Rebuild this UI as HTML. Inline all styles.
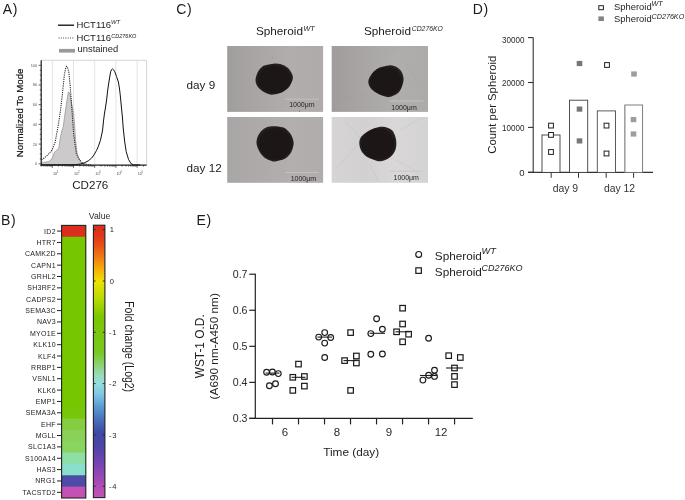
<!DOCTYPE html><html><head><meta charset="utf-8"><style>html,body{margin:0;padding:0;background:#fff;}svg{display:block;filter:blur(0.3px);}text{font-family:"Liberation Sans", sans-serif;}</style></head><body>
<svg width="685" height="500" viewBox="0 0 685 500">
<rect width="685" height="500" fill="#fff"/>
<text x="2.8" y="13.6" font-size="14.0" text-anchor="start" fill="#1a1a1a" letter-spacing="0.6">A)</text>
<text x="1.0" y="224.8" font-size="14.0" text-anchor="start" fill="#1a1a1a" letter-spacing="0.6">B)</text>
<text x="176.2" y="13.7" font-size="14.0" text-anchor="start" fill="#1a1a1a" letter-spacing="0.6">C)</text>
<text x="472.8" y="13.7" font-size="14.0" text-anchor="start" fill="#1a1a1a" letter-spacing="0.6">D)</text>
<text x="196.6" y="224.9" font-size="14.0" text-anchor="start" fill="#1a1a1a" letter-spacing="0.6">E)</text>
<line x1="58" y1="25.2" x2="74" y2="25.2" stroke="#0a0a0a" stroke-width="1.3"/>
<line x1="58.5" y1="38" x2="74" y2="38" stroke="#333" stroke-width="0.9" stroke-dasharray="1,1.3"/>
<rect x="59" y="48.9" width="16" height="3.7" fill="#9a9a9a"/>
<text x="76.4" y="27.75" font-size="9.5" text-anchor="start" fill="#222" >HCT116</text>
<text x="111.0" y="24.4" font-size="5.8" text-anchor="start" fill="#222" font-style="italic">WT</text>
<text x="76.4" y="41.0" font-size="9.5" text-anchor="start" fill="#222" >HCT116</text>
<text x="111.3" y="37.7" font-size="5.5" text-anchor="start" fill="#222" font-style="italic">CD276KO</text>
<text x="77.6" y="52.0" font-size="9.4" text-anchor="start" fill="#222" >unstained</text>
<line x1="52.30" y1="60.3" x2="52.30" y2="165.2" stroke="#dcdcdc" stroke-width="0.8"/>
<line x1="73.50" y1="60.3" x2="73.50" y2="165.2" stroke="#dcdcdc" stroke-width="0.8"/>
<line x1="94.70" y1="60.3" x2="94.70" y2="165.2" stroke="#dcdcdc" stroke-width="0.8"/>
<line x1="115.90" y1="60.3" x2="115.90" y2="165.2" stroke="#dcdcdc" stroke-width="0.8"/>
<line x1="137.10" y1="60.3" x2="137.10" y2="165.2" stroke="#dcdcdc" stroke-width="0.8"/>
<line x1="41.2" y1="60.3" x2="146.6" y2="60.3" stroke="#d0d0d0" stroke-width="0.9"/>
<line x1="146.6" y1="60.3" x2="146.6" y2="165.2" stroke="#d0d0d0" stroke-width="0.9"/>
<path d="M41.5,165.2 L41.5,162.5 L43.2,162.4 L48.8,161.6 L52.0,158.8 L54.4,152.4 L56.4,150.4 L58.8,148.4 L60.0,139.6 L61.8,131.0 L63.2,127.0 L64.8,115.0 L66.4,104.0 L67.6,96.6 L68.3,92.0 L69.2,92.5 L70.4,96.0 L71.6,104.0 L73.6,113.4 L74.6,125.0 L75.2,135.0 L75.8,142.0 L77.2,154.0 L80.4,162.0 L84.0,164.6 L86.0,165.2 Z" fill="#cccaca" stroke="#8f8f8f" stroke-width="0.7"/>
<path d="M41.5,160.0 L43.2,158.8 L48.0,154.8 L52.0,150.0 L55.2,142.0 L56.6,134.2 L57.4,130.0 L58.4,124.6 L60.4,111.0 L62.2,96.0 L63.2,86.4 L64.4,74.4 L65.6,68.5 L66.6,66.4 L67.6,67.5 L68.8,72.0 L70.0,84.0 L71.0,97.0 L72.0,111.0 L72.8,122.2 L73.6,133.4 L74.8,143.0 L76.4,154.0 L78.8,158.8 L82.0,162.4 L84.0,163.6 L88.0,164.6 L92.0,165.0" fill="none" stroke="#2a2222" stroke-width="1.05" stroke-dasharray="1.2,1.0"/>
<path d="M41.5,164.8 L60.0,164.8 L76.0,164.7 L80.4,164.0 L84.4,162.8 L88.4,160.8 L91.5,158.2 L94.0,154.8 L96.5,150.5 L98.2,146.8 L100.4,140.4 L101.8,134.0 L102.6,130.0 L103.5,121.0 L104.4,114.0 L105.4,108.0 L106.6,100.0 L107.6,91.0 L108.6,84.0 L109.4,79.0 L110.6,71.8 L111.6,69.6 L112.4,68.8 L113.6,69.8 L114.8,71.8 L116.6,76.6 L118.4,82.0 L119.4,88.0 L120.2,94.6 L121.4,107.0 L122.4,117.0 L123.2,128.0 L124.6,141.0 L126.2,151.6 L128.6,159.6 L131.0,163.6 L133.4,164.8 L140.0,165.0" fill="none" stroke="#111" stroke-width="1.0"/>
<line x1="41.2" y1="60.3" x2="41.2" y2="165.79999999999998" stroke="#1a1a1a" stroke-width="1.2"/>
<line x1="40.6" y1="165.2" x2="146.6" y2="165.2" stroke="#1a1a1a" stroke-width="1.2"/>
<line x1="38.60" y1="163.80" x2="41.2" y2="163.80" stroke="#222" stroke-width="0.7"/>
<text x="37.2" y="165.20000000000002" font-size="3.9" text-anchor="end" fill="#555" >0</text>
<line x1="39.80" y1="158.88" x2="41.2" y2="158.88" stroke="#222" stroke-width="0.7"/>
<line x1="39.80" y1="153.95" x2="41.2" y2="153.95" stroke="#222" stroke-width="0.7"/>
<line x1="39.80" y1="149.03" x2="41.2" y2="149.03" stroke="#222" stroke-width="0.7"/>
<line x1="38.60" y1="144.10" x2="41.2" y2="144.10" stroke="#222" stroke-width="0.7"/>
<text x="37.2" y="145.50000000000003" font-size="3.9" text-anchor="end" fill="#555" >20</text>
<line x1="39.80" y1="139.18" x2="41.2" y2="139.18" stroke="#222" stroke-width="0.7"/>
<line x1="39.80" y1="134.25" x2="41.2" y2="134.25" stroke="#222" stroke-width="0.7"/>
<line x1="39.80" y1="129.33" x2="41.2" y2="129.33" stroke="#222" stroke-width="0.7"/>
<line x1="38.60" y1="124.40" x2="41.2" y2="124.40" stroke="#222" stroke-width="0.7"/>
<text x="37.2" y="125.80000000000001" font-size="3.9" text-anchor="end" fill="#555" >40</text>
<line x1="39.80" y1="119.48" x2="41.2" y2="119.48" stroke="#222" stroke-width="0.7"/>
<line x1="39.80" y1="114.55" x2="41.2" y2="114.55" stroke="#222" stroke-width="0.7"/>
<line x1="39.80" y1="109.62" x2="41.2" y2="109.62" stroke="#222" stroke-width="0.7"/>
<line x1="38.60" y1="104.70" x2="41.2" y2="104.70" stroke="#222" stroke-width="0.7"/>
<text x="37.2" y="106.10000000000001" font-size="3.9" text-anchor="end" fill="#555" >60</text>
<line x1="39.80" y1="99.78" x2="41.2" y2="99.78" stroke="#222" stroke-width="0.7"/>
<line x1="39.80" y1="94.85" x2="41.2" y2="94.85" stroke="#222" stroke-width="0.7"/>
<line x1="39.80" y1="89.92" x2="41.2" y2="89.92" stroke="#222" stroke-width="0.7"/>
<line x1="38.60" y1="85.00" x2="41.2" y2="85.00" stroke="#222" stroke-width="0.7"/>
<text x="37.2" y="86.4" font-size="3.9" text-anchor="end" fill="#555" >80</text>
<line x1="39.80" y1="80.08" x2="41.2" y2="80.08" stroke="#222" stroke-width="0.7"/>
<line x1="39.80" y1="75.15" x2="41.2" y2="75.15" stroke="#222" stroke-width="0.7"/>
<line x1="39.80" y1="70.23" x2="41.2" y2="70.23" stroke="#222" stroke-width="0.7"/>
<line x1="38.60" y1="65.30" x2="41.2" y2="65.30" stroke="#222" stroke-width="0.7"/>
<text x="37.2" y="66.7" font-size="3.9" text-anchor="end" fill="#555" >100</text>
<line x1="41.21" y1="165.2" x2="41.21" y2="166.60" stroke="#222" stroke-width="0.7"/>
<line x1="43.86" y1="165.2" x2="43.86" y2="166.60" stroke="#222" stroke-width="0.7"/>
<line x1="45.92" y1="165.2" x2="45.92" y2="166.60" stroke="#222" stroke-width="0.7"/>
<line x1="47.60" y1="165.2" x2="47.60" y2="166.60" stroke="#222" stroke-width="0.7"/>
<line x1="49.02" y1="165.2" x2="49.02" y2="166.60" stroke="#222" stroke-width="0.7"/>
<line x1="50.25" y1="165.2" x2="50.25" y2="166.60" stroke="#222" stroke-width="0.7"/>
<line x1="51.33" y1="165.2" x2="51.33" y2="166.60" stroke="#222" stroke-width="0.7"/>
<line x1="52.30" y1="165.2" x2="52.30" y2="167.80" stroke="#222" stroke-width="0.7"/>
<line x1="58.68" y1="165.2" x2="58.68" y2="166.60" stroke="#222" stroke-width="0.7"/>
<line x1="62.41" y1="165.2" x2="62.41" y2="166.60" stroke="#222" stroke-width="0.7"/>
<line x1="65.06" y1="165.2" x2="65.06" y2="166.60" stroke="#222" stroke-width="0.7"/>
<line x1="67.12" y1="165.2" x2="67.12" y2="166.60" stroke="#222" stroke-width="0.7"/>
<line x1="68.80" y1="165.2" x2="68.80" y2="166.60" stroke="#222" stroke-width="0.7"/>
<line x1="70.22" y1="165.2" x2="70.22" y2="166.60" stroke="#222" stroke-width="0.7"/>
<line x1="71.45" y1="165.2" x2="71.45" y2="166.60" stroke="#222" stroke-width="0.7"/>
<line x1="72.53" y1="165.2" x2="72.53" y2="166.60" stroke="#222" stroke-width="0.7"/>
<line x1="73.50" y1="165.2" x2="73.50" y2="167.80" stroke="#222" stroke-width="0.7"/>
<line x1="79.88" y1="165.2" x2="79.88" y2="166.60" stroke="#222" stroke-width="0.7"/>
<line x1="83.61" y1="165.2" x2="83.61" y2="166.60" stroke="#222" stroke-width="0.7"/>
<line x1="86.26" y1="165.2" x2="86.26" y2="166.60" stroke="#222" stroke-width="0.7"/>
<line x1="88.32" y1="165.2" x2="88.32" y2="166.60" stroke="#222" stroke-width="0.7"/>
<line x1="90.00" y1="165.2" x2="90.00" y2="166.60" stroke="#222" stroke-width="0.7"/>
<line x1="91.42" y1="165.2" x2="91.42" y2="166.60" stroke="#222" stroke-width="0.7"/>
<line x1="92.65" y1="165.2" x2="92.65" y2="166.60" stroke="#222" stroke-width="0.7"/>
<line x1="93.73" y1="165.2" x2="93.73" y2="166.60" stroke="#222" stroke-width="0.7"/>
<line x1="94.70" y1="165.2" x2="94.70" y2="167.80" stroke="#222" stroke-width="0.7"/>
<line x1="101.08" y1="165.2" x2="101.08" y2="166.60" stroke="#222" stroke-width="0.7"/>
<line x1="104.81" y1="165.2" x2="104.81" y2="166.60" stroke="#222" stroke-width="0.7"/>
<line x1="107.46" y1="165.2" x2="107.46" y2="166.60" stroke="#222" stroke-width="0.7"/>
<line x1="109.52" y1="165.2" x2="109.52" y2="166.60" stroke="#222" stroke-width="0.7"/>
<line x1="111.20" y1="165.2" x2="111.20" y2="166.60" stroke="#222" stroke-width="0.7"/>
<line x1="112.62" y1="165.2" x2="112.62" y2="166.60" stroke="#222" stroke-width="0.7"/>
<line x1="113.85" y1="165.2" x2="113.85" y2="166.60" stroke="#222" stroke-width="0.7"/>
<line x1="114.93" y1="165.2" x2="114.93" y2="166.60" stroke="#222" stroke-width="0.7"/>
<line x1="115.90" y1="165.2" x2="115.90" y2="167.80" stroke="#222" stroke-width="0.7"/>
<line x1="122.28" y1="165.2" x2="122.28" y2="166.60" stroke="#222" stroke-width="0.7"/>
<line x1="126.01" y1="165.2" x2="126.01" y2="166.60" stroke="#222" stroke-width="0.7"/>
<line x1="128.66" y1="165.2" x2="128.66" y2="166.60" stroke="#222" stroke-width="0.7"/>
<line x1="130.72" y1="165.2" x2="130.72" y2="166.60" stroke="#222" stroke-width="0.7"/>
<line x1="132.40" y1="165.2" x2="132.40" y2="166.60" stroke="#222" stroke-width="0.7"/>
<line x1="133.82" y1="165.2" x2="133.82" y2="166.60" stroke="#222" stroke-width="0.7"/>
<line x1="135.05" y1="165.2" x2="135.05" y2="166.60" stroke="#222" stroke-width="0.7"/>
<line x1="136.13" y1="165.2" x2="136.13" y2="166.60" stroke="#222" stroke-width="0.7"/>
<line x1="137.10" y1="165.2" x2="137.10" y2="167.80" stroke="#222" stroke-width="0.7"/>
<line x1="143.48" y1="165.2" x2="143.48" y2="166.60" stroke="#222" stroke-width="0.7"/>
<text x="52.9" y="175.2" font-size="3.8" text-anchor="start" fill="#555" >10</text>
<text x="56.699999999999996" y="172.6" font-size="2.8" text-anchor="start" fill="#555" >1</text>
<text x="74.1" y="175.2" font-size="3.8" text-anchor="start" fill="#555" >10</text>
<text x="77.9" y="172.6" font-size="2.8" text-anchor="start" fill="#555" >2</text>
<text x="95.29999999999998" y="175.2" font-size="3.8" text-anchor="start" fill="#555" >10</text>
<text x="99.1" y="172.6" font-size="2.8" text-anchor="start" fill="#555" >3</text>
<text x="116.49999999999999" y="175.2" font-size="3.8" text-anchor="start" fill="#555" >10</text>
<text x="120.3" y="172.6" font-size="2.8" text-anchor="start" fill="#555" >4</text>
<text x="137.7" y="175.2" font-size="3.8" text-anchor="start" fill="#555" >10</text>
<text x="141.5" y="172.6" font-size="2.8" text-anchor="start" fill="#555" >5</text>
<text x="72.2" y="188.7" font-size="11.6" text-anchor="start" fill="#222" >CD276</text>
<text x="0" y="0" font-size="9.7" fill="#111" stroke="#111" stroke-width="0.2" text-anchor="middle" transform="translate(23.0,112.9) rotate(-90)">Normalized To Mode</text>
<rect x="61.6" y="225.40" width="24.20" height="272.60" fill="#dc2e1c"/>
<line x1="57.0" y1="231.08" x2="61.6" y2="231.08" stroke="#222" stroke-width="1"/>
<text x="55.9" y="233.57916666666668" font-size="7.0" text-anchor="end" fill="#222" letter-spacing="0.3">ID2</text>
<rect x="61.6" y="236.76" width="24.20" height="261.24" fill="#76c600"/>
<line x1="57.0" y1="242.44" x2="61.6" y2="242.44" stroke="#222" stroke-width="1"/>
<text x="55.9" y="244.9375" font-size="7.0" text-anchor="end" fill="#222" letter-spacing="0.3">HTR7</text>
<rect x="61.6" y="248.12" width="24.20" height="249.88" fill="#76c600"/>
<line x1="57.0" y1="253.80" x2="61.6" y2="253.80" stroke="#222" stroke-width="1"/>
<text x="55.9" y="256.29583333333335" font-size="7.0" text-anchor="end" fill="#222" letter-spacing="0.3">CAMK2D</text>
<rect x="61.6" y="259.48" width="24.20" height="238.52" fill="#76c600"/>
<line x1="57.0" y1="265.15" x2="61.6" y2="265.15" stroke="#222" stroke-width="1"/>
<text x="55.9" y="267.6541666666667" font-size="7.0" text-anchor="end" fill="#222" letter-spacing="0.3">CAPN1</text>
<rect x="61.6" y="270.83" width="24.20" height="227.17" fill="#76c600"/>
<line x1="57.0" y1="276.51" x2="61.6" y2="276.51" stroke="#222" stroke-width="1"/>
<text x="55.9" y="279.01250000000005" font-size="7.0" text-anchor="end" fill="#222" letter-spacing="0.3">GRHL2</text>
<rect x="61.6" y="282.19" width="24.20" height="215.81" fill="#76c600"/>
<line x1="57.0" y1="287.87" x2="61.6" y2="287.87" stroke="#222" stroke-width="1"/>
<text x="55.9" y="290.37083333333334" font-size="7.0" text-anchor="end" fill="#222" letter-spacing="0.3">SH3RF2</text>
<rect x="61.6" y="293.55" width="24.20" height="204.45" fill="#76c600"/>
<line x1="57.0" y1="299.23" x2="61.6" y2="299.23" stroke="#222" stroke-width="1"/>
<text x="55.9" y="301.7291666666667" font-size="7.0" text-anchor="end" fill="#222" letter-spacing="0.3">CADPS2</text>
<rect x="61.6" y="304.91" width="24.20" height="193.09" fill="#76c600"/>
<line x1="57.0" y1="310.59" x2="61.6" y2="310.59" stroke="#222" stroke-width="1"/>
<text x="55.9" y="313.08750000000003" font-size="7.0" text-anchor="end" fill="#222" letter-spacing="0.3">SEMA3C</text>
<rect x="61.6" y="316.27" width="24.20" height="181.73" fill="#76c600"/>
<line x1="57.0" y1="321.95" x2="61.6" y2="321.95" stroke="#222" stroke-width="1"/>
<text x="55.9" y="324.4458333333333" font-size="7.0" text-anchor="end" fill="#222" letter-spacing="0.3">NAV3</text>
<rect x="61.6" y="327.62" width="24.20" height="170.38" fill="#76c600"/>
<line x1="57.0" y1="333.30" x2="61.6" y2="333.30" stroke="#222" stroke-width="1"/>
<text x="55.9" y="335.8041666666667" font-size="7.0" text-anchor="end" fill="#222" letter-spacing="0.3">MYO1E</text>
<rect x="61.6" y="338.98" width="24.20" height="159.02" fill="#76c600"/>
<line x1="57.0" y1="344.66" x2="61.6" y2="344.66" stroke="#222" stroke-width="1"/>
<text x="55.9" y="347.1625" font-size="7.0" text-anchor="end" fill="#222" letter-spacing="0.3">KLK10</text>
<rect x="61.6" y="350.34" width="24.20" height="147.66" fill="#76c600"/>
<line x1="57.0" y1="356.02" x2="61.6" y2="356.02" stroke="#222" stroke-width="1"/>
<text x="55.9" y="358.52083333333337" font-size="7.0" text-anchor="end" fill="#222" letter-spacing="0.3">KLF4</text>
<rect x="61.6" y="361.70" width="24.20" height="136.30" fill="#76c600"/>
<line x1="57.0" y1="367.38" x2="61.6" y2="367.38" stroke="#222" stroke-width="1"/>
<text x="55.9" y="369.8791666666667" font-size="7.0" text-anchor="end" fill="#222" letter-spacing="0.3">RRBP1</text>
<rect x="61.6" y="373.06" width="24.20" height="124.94" fill="#76c600"/>
<line x1="57.0" y1="378.74" x2="61.6" y2="378.74" stroke="#222" stroke-width="1"/>
<text x="55.9" y="381.23750000000007" font-size="7.0" text-anchor="end" fill="#222" letter-spacing="0.3">VSNL1</text>
<rect x="61.6" y="384.42" width="24.20" height="113.58" fill="#76c600"/>
<line x1="57.0" y1="390.10" x2="61.6" y2="390.10" stroke="#222" stroke-width="1"/>
<text x="55.9" y="392.59583333333336" font-size="7.0" text-anchor="end" fill="#222" letter-spacing="0.3">KLK6</text>
<rect x="61.6" y="395.77" width="24.20" height="102.23" fill="#76c600"/>
<line x1="57.0" y1="401.45" x2="61.6" y2="401.45" stroke="#222" stroke-width="1"/>
<text x="55.9" y="403.95416666666665" font-size="7.0" text-anchor="end" fill="#222" letter-spacing="0.3">EMP1</text>
<rect x="61.6" y="407.13" width="24.20" height="90.87" fill="#78c608"/>
<line x1="57.0" y1="412.81" x2="61.6" y2="412.81" stroke="#222" stroke-width="1"/>
<text x="55.9" y="415.3125" font-size="7.0" text-anchor="end" fill="#222" letter-spacing="0.3">SEMA3A</text>
<rect x="61.6" y="418.49" width="24.20" height="79.51" fill="#86cc40"/>
<line x1="57.0" y1="424.17" x2="61.6" y2="424.17" stroke="#222" stroke-width="1"/>
<text x="55.9" y="426.67083333333335" font-size="7.0" text-anchor="end" fill="#222" letter-spacing="0.3">EHF</text>
<rect x="61.6" y="429.85" width="24.20" height="68.15" fill="#8ad15a"/>
<line x1="57.0" y1="435.53" x2="61.6" y2="435.53" stroke="#222" stroke-width="1"/>
<text x="55.9" y="438.0291666666667" font-size="7.0" text-anchor="end" fill="#222" letter-spacing="0.3">MGLL</text>
<rect x="61.6" y="441.21" width="24.20" height="56.79" fill="#8ad460"/>
<line x1="57.0" y1="446.89" x2="61.6" y2="446.89" stroke="#222" stroke-width="1"/>
<text x="55.9" y="449.38750000000005" font-size="7.0" text-anchor="end" fill="#222" letter-spacing="0.3">SLC1A3</text>
<rect x="61.6" y="452.57" width="24.20" height="45.43" fill="#8ddfa6"/>
<line x1="57.0" y1="458.25" x2="61.6" y2="458.25" stroke="#222" stroke-width="1"/>
<text x="55.9" y="460.7458333333334" font-size="7.0" text-anchor="end" fill="#222" letter-spacing="0.3">S100A14</text>
<rect x="61.6" y="463.93" width="24.20" height="34.07" fill="#88e0cc"/>
<line x1="57.0" y1="469.60" x2="61.6" y2="469.60" stroke="#222" stroke-width="1"/>
<text x="55.9" y="472.10416666666674" font-size="7.0" text-anchor="end" fill="#222" letter-spacing="0.3">HAS3</text>
<rect x="61.6" y="475.28" width="24.20" height="22.72" fill="#4c4ca8"/>
<line x1="57.0" y1="480.96" x2="61.6" y2="480.96" stroke="#222" stroke-width="1"/>
<text x="55.9" y="483.46250000000003" font-size="7.0" text-anchor="end" fill="#222" letter-spacing="0.3">NRG1</text>
<rect x="61.6" y="486.64" width="24.20" height="11.36" fill="#c452b4"/>
<line x1="57.0" y1="492.32" x2="61.6" y2="492.32" stroke="#222" stroke-width="1"/>
<text x="55.9" y="494.8208333333333" font-size="7.0" text-anchor="end" fill="#222" letter-spacing="0.3">TACSTD2</text>
<rect x="61.6" y="225.4" width="24.20" height="272.60" fill="none" stroke="#222" stroke-width="1.1"/>
<defs><linearGradient id="cb" x1="0" y1="225.200000" x2="0" y2="497.600000" gradientUnits="userSpaceOnUse">
<stop offset="0.0000" stop-color="#dc2e1c"/>
<stop offset="0.0354" stop-color="#de3519"/>
<stop offset="0.0730" stop-color="#e64e18"/>
<stop offset="0.1201" stop-color="#f07e12"/>
<stop offset="0.1634" stop-color="#f6b00a"/>
<stop offset="0.2048" stop-color="#f0e000"/>
<stop offset="0.2613" stop-color="#c0dc00"/>
<stop offset="0.3367" stop-color="#7cc600"/>
<stop offset="0.4685" stop-color="#78c820"/>
<stop offset="0.5156" stop-color="#8cd478"/>
<stop offset="0.5532" stop-color="#98dcc0"/>
<stop offset="0.5815" stop-color="#96dcdc"/>
<stop offset="0.6192" stop-color="#80c8e4"/>
<stop offset="0.6662" stop-color="#5a9ad0"/>
<stop offset="0.7133" stop-color="#4870bc"/>
<stop offset="0.7604" stop-color="#3e4aa6"/>
<stop offset="0.8075" stop-color="#4a44a8"/>
<stop offset="0.8828" stop-color="#7a44b4"/>
<stop offset="0.9581" stop-color="#b04cb8"/>
<stop offset="1.0000" stop-color="#c452b4"/>
</linearGradient></defs>
<rect x="93.4" y="225.2" width="11.50" height="272.40" fill="url(#cb)" stroke="#222" stroke-width="1.1"/>
<line x1="93.4" y1="229.70" x2="95.60000000000001" y2="229.70" stroke="#222" stroke-width="0.9"/>
<line x1="102.7" y1="229.70" x2="104.9" y2="229.70" stroke="#222" stroke-width="0.9"/>
<text x="109.8" y="232.29999999999998" font-size="7.6" text-anchor="start" fill="#2a2a2a" >1</text>
<line x1="93.4" y1="281.00" x2="95.60000000000001" y2="281.00" stroke="#222" stroke-width="0.9"/>
<line x1="102.7" y1="281.00" x2="104.9" y2="281.00" stroke="#222" stroke-width="0.9"/>
<text x="109.8" y="283.6" font-size="7.6" text-anchor="start" fill="#2a2a2a" >0</text>
<line x1="93.4" y1="332.30" x2="95.60000000000001" y2="332.30" stroke="#222" stroke-width="0.9"/>
<line x1="102.7" y1="332.30" x2="104.9" y2="332.30" stroke="#222" stroke-width="0.9"/>
<text x="109.0" y="334.90000000000003" font-size="7.6" text-anchor="start" fill="#2a2a2a" letter-spacing="0.7">-1</text>
<line x1="93.4" y1="383.60" x2="95.60000000000001" y2="383.60" stroke="#222" stroke-width="0.9"/>
<line x1="102.7" y1="383.60" x2="104.9" y2="383.60" stroke="#222" stroke-width="0.9"/>
<text x="109.0" y="386.20000000000005" font-size="7.6" text-anchor="start" fill="#2a2a2a" letter-spacing="0.7">-2</text>
<line x1="93.4" y1="434.90" x2="95.60000000000001" y2="434.90" stroke="#222" stroke-width="0.9"/>
<line x1="102.7" y1="434.90" x2="104.9" y2="434.90" stroke="#222" stroke-width="0.9"/>
<text x="109.0" y="437.5" font-size="7.6" text-anchor="start" fill="#2a2a2a" letter-spacing="0.7">-3</text>
<line x1="93.4" y1="486.20" x2="95.60000000000001" y2="486.20" stroke="#222" stroke-width="0.9"/>
<line x1="102.7" y1="486.20" x2="104.9" y2="486.20" stroke="#222" stroke-width="0.9"/>
<text x="109.0" y="488.8" font-size="7.6" text-anchor="start" fill="#2a2a2a" letter-spacing="0.7">-4</text>
<text x="88.8" y="219.0" font-size="8.7" text-anchor="start" fill="#2a2a2a" >Value</text>
<text x="0" y="0" font-size="10.5" fill="#1e1e1e" text-anchor="middle" transform="translate(125.3,346.65) rotate(90) scale(1,1.15)">Fold change (Log2)</text>
<text x="255.9" y="34.8" font-size="11.75" text-anchor="start" fill="#222" >Spheroid</text>
<text x="303.5" y="30.7" font-size="7.2" text-anchor="start" fill="#222" font-style="italic">WT</text>
<text x="363.9" y="34.8" font-size="11.75" text-anchor="start" fill="#222" >Spheroid</text>
<text x="411.8" y="31.3" font-size="6.8" text-anchor="start" fill="#222" font-style="italic">CD276KO</text>
<text x="186.6" y="89.3" font-size="11.7" text-anchor="start" fill="#222" >day 9</text>
<text x="186.6" y="171.9" font-size="11.7" text-anchor="start" fill="#222" >day 12</text>
<defs>
<linearGradient id="bg0" x1="0" y1="0" x2="1" y2="0"><stop offset="0.000" stop-color="#a19d9d"/><stop offset="0.333" stop-color="#a9a6a5"/><stop offset="0.667" stop-color="#b0adac"/><stop offset="1.000" stop-color="#aeabaa"/></linearGradient>
<linearGradient id="bg1" x1="0" y1="0" x2="1" y2="0"><stop offset="0.000" stop-color="#9f9c9b"/><stop offset="0.333" stop-color="#a8a5a4"/><stop offset="0.667" stop-color="#b0aead"/><stop offset="1.000" stop-color="#adaaa9"/></linearGradient>
<linearGradient id="bg2" x1="0" y1="0" x2="1" y2="0"><stop offset="0.000" stop-color="#a9a6a6"/><stop offset="0.333" stop-color="#adaaa9"/><stop offset="0.667" stop-color="#b2afae"/><stop offset="1.000" stop-color="#afacab"/></linearGradient>
<linearGradient id="bg3" x1="0" y1="0" x2="1" y2="0"><stop offset="0.000" stop-color="#d6d4d4"/><stop offset="0.333" stop-color="#d2d0d0"/><stop offset="0.667" stop-color="#d9d7d7"/><stop offset="1.000" stop-color="#d4d3d3"/></linearGradient>
<filter id="bl" x="-20%" y="-20%" width="140%" height="140%"><feGaussianBlur stdDeviation="0.7"/></filter>
<filter id="bl2" x="-20%" y="-20%" width="140%" height="140%"><feGaussianBlur stdDeviation="0.8"/></filter>
<radialGradient id="sg" cx="0.5" cy="0.5" r="0.5"><stop offset="0" stop-color="#1a1615"/><stop offset="0.85" stop-color="#1c1817"/><stop offset="1" stop-color="#28221f"/></radialGradient>
</defs>
<rect x="227.2" y="46.0" width="95.9" height="65.9" fill="url(#bg0)"/>
<path d="M273.50,63.70 C276.30,63.48 278.85,63.72 281.10,64.30 C283.35,64.88 285.32,65.87 287.00,67.20 C288.68,68.53 290.22,70.47 291.20,72.30 C292.18,74.13 293.05,76.10 292.90,78.20 C292.75,80.30 291.28,83.08 290.30,84.90 C289.32,86.72 288.40,87.83 287.00,89.10 C285.60,90.37 283.87,91.63 281.90,92.50 C279.93,93.37 277.15,93.95 275.20,94.30 C273.25,94.65 272.30,95.12 270.20,94.60 C268.10,94.08 264.70,92.53 262.60,91.20 C260.50,89.87 258.78,88.35 257.60,86.60 C256.42,84.85 255.65,82.67 255.50,80.70 C255.35,78.73 256.08,76.62 256.70,74.80 C257.32,72.98 257.93,71.33 259.20,69.80 C260.47,68.27 261.92,66.62 264.30,65.60 C266.68,64.58 270.70,63.92 273.50,63.70Z" fill="url(#sg)" filter="url(#bl)"/>
<line x1="284.9" y1="99.2" x2="318.4" y2="99.2" stroke="#c8c8c8" stroke-width="0.8"/>
<text x="289.2" y="106.5" font-size="7.0" text-anchor="start" fill="#262626" >1000&#956;m</text>
<rect x="331.7" y="46.0" width="96.3" height="65.9" fill="url(#bg1)"/>
<path d="M378,60 C385,52 392,50 398,47" fill="none" stroke="#8e8c8b" stroke-opacity="0.18" stroke-width="0.7" filter="url(#bl)"/>
<path d="M405,62 C412,70 415,80 420,90" fill="none" stroke="#8e8c8b" stroke-opacity="0.18" stroke-width="0.7" filter="url(#bl)"/>
<path d="M340,100 C350,96 358,97 366,94" fill="none" stroke="#8e8c8b" stroke-opacity="0.18" stroke-width="0.7" filter="url(#bl)"/>
<path d="M398,98 C404,104 408,108 412,112" fill="none" stroke="#8e8c8b" stroke-opacity="0.18" stroke-width="0.7" filter="url(#bl)"/>
<path d="M388.90,65.50 C391.42,65.15 392.50,65.55 393.90,65.90 C395.30,66.25 396.03,66.62 397.30,67.60 C398.57,68.58 400.45,69.85 401.50,71.80 C402.55,73.75 403.60,76.65 403.60,79.30 C403.60,81.95 402.55,85.32 401.50,87.70 C400.45,90.08 399.27,92.05 397.30,93.60 C395.33,95.15 391.95,96.58 389.70,97.00 C387.45,97.42 386.03,96.80 383.80,96.10 C381.57,95.40 378.53,94.20 376.30,92.80 C374.07,91.40 371.73,89.67 370.40,87.70 C369.07,85.73 368.02,83.38 368.30,81.00 C368.58,78.62 370.35,75.57 372.10,73.40 C373.85,71.23 376.00,69.32 378.80,68.00 C381.60,66.68 386.38,65.85 388.90,65.50Z" fill="url(#sg)" filter="url(#bl)"/>
<line x1="389.9" y1="101.0" x2="423.4" y2="101.0" stroke="#c8c8c8" stroke-width="0.8"/>
<text x="391.3" y="110.3" font-size="7.0" text-anchor="start" fill="#262626" >1000&#956;m</text>
<rect x="227.2" y="117.0" width="95.9" height="65.8" fill="url(#bg2)"/>
<path d="M273.80,126.20 C276.45,126.20 280.40,126.68 282.60,127.30 C284.80,127.92 285.53,128.58 287.00,129.90 C288.47,131.22 290.30,133.13 291.40,135.20 C292.50,137.27 293.38,140.10 293.60,142.30 C293.82,144.50 293.37,146.35 292.70,148.40 C292.03,150.45 290.98,152.83 289.60,154.60 C288.22,156.37 286.60,157.90 284.40,159.00 C282.20,160.10 278.47,160.83 276.40,161.20 C274.33,161.57 273.90,161.72 272.00,161.20 C270.10,160.68 267.05,159.63 265.00,158.10 C262.95,156.57 261.10,154.35 259.70,152.00 C258.30,149.65 256.97,146.50 256.60,144.00 C256.23,141.50 256.68,139.20 257.50,137.00 C258.32,134.80 259.97,132.42 261.50,130.80 C263.03,129.18 264.65,128.07 266.70,127.30 C268.75,126.53 271.15,126.20 273.80,126.20Z" fill="url(#sg)" filter="url(#bl)"/>
<line x1="285.6" y1="172.4" x2="318.4" y2="172.4" stroke="#c8c8c8" stroke-width="0.8"/>
<text x="290.7" y="180.6" font-size="7.0" text-anchor="start" fill="#262626" >1000&#956;m</text>
<rect x="331.7" y="117.0" width="96.3" height="65.8" fill="url(#bg3)"/>
<path d="M335,170 C345,160 352,150 360,142" fill="none" stroke="#8e8c8b" stroke-opacity="0.18" stroke-width="0.7" filter="url(#bl)"/>
<path d="M395,160 C405,165 412,168 420,175" fill="none" stroke="#8e8c8b" stroke-opacity="0.18" stroke-width="0.7" filter="url(#bl)"/>
<path d="M400,130 C410,125 418,118 425,118" fill="none" stroke="#8e8c8b" stroke-opacity="0.18" stroke-width="0.7" filter="url(#bl)"/>
<path d="M345,122 C352,128 356,132 360,138" fill="none" stroke="#8e8c8b" stroke-opacity="0.18" stroke-width="0.7" filter="url(#bl)"/>
<path d="M370,165 C374,172 376,176 378,182" fill="none" stroke="#8e8c8b" stroke-opacity="0.18" stroke-width="0.7" filter="url(#bl)"/>
<path d="M383.10,126.80 C385.88,127.02 389.10,128.25 391.00,129.50 C392.90,130.75 393.62,132.32 394.50,134.30 C395.38,136.28 396.08,139.05 396.30,141.40 C396.52,143.75 396.38,146.20 395.80,148.40 C395.22,150.60 394.18,152.83 392.80,154.60 C391.42,156.37 389.57,157.90 387.50,159.00 C385.43,160.10 382.60,161.05 380.40,161.20 C378.20,161.35 376.65,160.70 374.30,159.90 C371.95,159.10 368.52,158.02 366.30,156.40 C364.08,154.78 362.17,152.42 361.00,150.20 C359.83,147.98 359.30,145.30 359.30,143.10 C359.30,140.90 359.68,138.90 361.00,137.00 C362.32,135.10 364.98,133.17 367.20,131.70 C369.42,130.23 371.65,129.02 374.30,128.20 C376.95,127.38 380.32,126.58 383.10,126.80Z" fill="url(#sg)" filter="url(#bl)"/>
<line x1="389.1" y1="171.2" x2="423.4" y2="171.2" stroke="#c8c8c8" stroke-width="0.8"/>
<text x="393.5" y="180.3" font-size="7.0" text-anchor="start" fill="#262626" >1000&#956;m</text>
<circle cx="272.2" cy="58.0" r="0.5" fill="#555" opacity="0.6"/>
<circle cx="299.6" cy="111.0" r="0.6" fill="#333" opacity="0.7"/>
<text x="614.1" y="9.7" font-size="9.4" text-anchor="start" fill="#222" >Spheroid</text>
<text x="651.5" y="5.6" font-size="7.2" text-anchor="start" fill="#222" font-style="italic">WT</text>
<text x="614.1" y="22.2" font-size="9.4" text-anchor="start" fill="#222" >Spheroid</text>
<text x="651.5" y="19.4" font-size="7.2" text-anchor="start" fill="#222" font-style="italic">CD276KO</text>
<rect x="598.8" y="5.7" width="4.6" height="4.0" fill="none" stroke="#222" stroke-width="1"/>
<rect x="598.4" y="16.4" width="5.5" height="4.6" fill="#858181"/>
<line x1="533.2" y1="37.6" x2="533.2" y2="172.9" stroke="#333" stroke-width="1.1"/>
<line x1="528" y1="172.4" x2="653" y2="172.4" stroke="#333" stroke-width="1.1"/>
<line x1="528" y1="172.30" x2="533.2" y2="172.30" stroke="#333" stroke-width="1.1"/>
<line x1="528" y1="127.40" x2="533.2" y2="127.40" stroke="#333" stroke-width="1.1"/>
<line x1="528" y1="82.50" x2="533.2" y2="82.50" stroke="#333" stroke-width="1.1"/>
<line x1="528" y1="37.60" x2="533.2" y2="37.60" stroke="#333" stroke-width="1.1"/>
<text x="524.6" y="43.199999999999996" font-size="9.6" text-anchor="end" fill="#2a2a2a" textLength="22.5" lengthAdjust="spacingAndGlyphs" >30000</text>
<text x="524.6" y="86.30000000000001" font-size="9.6" text-anchor="end" fill="#2a2a2a" textLength="22.5" lengthAdjust="spacingAndGlyphs" >20000</text>
<text x="524.6" y="131.4" font-size="9.6" text-anchor="end" fill="#2a2a2a" textLength="22.5" lengthAdjust="spacingAndGlyphs" >10000</text>
<text x="524.6" y="175.5" font-size="9.6" text-anchor="end" fill="#2a2a2a" >0</text>
<line x1="551.2" y1="172.4" x2="551.2" y2="177.8" stroke="#333" stroke-width="1"/>
<line x1="578.5" y1="172.4" x2="578.5" y2="177.8" stroke="#333" stroke-width="1"/>
<line x1="606.2" y1="172.4" x2="606.2" y2="177.8" stroke="#333" stroke-width="1"/>
<line x1="633.6" y1="172.4" x2="633.6" y2="177.8" stroke="#333" stroke-width="1"/>
<rect x="542.0" y="135.0" width="18.0" height="37.4" fill="#fff" stroke="#3a3a3a" stroke-width="0.9"/>
<rect x="569.5" y="100.2" width="18.2" height="72.2" fill="#fff" stroke="#3e3e3e" stroke-width="0.9"/>
<rect x="597.3" y="110.9" width="18.2" height="61.5" fill="#fff" stroke="#4a4a4a" stroke-width="0.9"/>
<rect x="624.8" y="105.0" width="17.8" height="67.4" fill="#fff" stroke="#707070" stroke-width="0.9"/>
<line x1="624.8" y1="105.5" x2="624.8" y2="172" stroke="#a0a0a0" stroke-width="1.1"/>
<rect x="548.60" y="123.20" width="4.8" height="4.8" fill="#fff" stroke="#222" stroke-width="1"/>
<rect x="548.60" y="132.50" width="4.8" height="4.8" fill="#fff" stroke="#222" stroke-width="1"/>
<rect x="548.60" y="149.60" width="4.8" height="4.8" fill="#fff" stroke="#222" stroke-width="1"/>
<rect x="576.70" y="60.90" width="5.6" height="5.2" fill="#7a7575"/>
<rect x="576.70" y="106.50" width="5.6" height="5.2" fill="#7a7575"/>
<rect x="576.70" y="138.30" width="5.6" height="5.2" fill="#7a7575"/>
<rect x="604.60" y="62.60" width="4.8" height="4.8" fill="#fff" stroke="#222" stroke-width="1"/>
<rect x="604.10" y="123.20" width="4.8" height="4.8" fill="#fff" stroke="#222" stroke-width="1"/>
<rect x="604.10" y="151.10" width="4.8" height="4.8" fill="#fff" stroke="#222" stroke-width="1"/>
<rect x="631.20" y="71.40" width="5.6" height="5.2" fill="#a09c9c"/>
<rect x="630.70" y="117.00" width="5.6" height="5.2" fill="#a09c9c"/>
<rect x="630.70" y="131.40" width="5.6" height="5.2" fill="#a09c9c"/>
<text x="565.4" y="191.7" font-size="10.4" text-anchor="middle" fill="#333" >day 9</text>
<text x="619.5" y="191.7" font-size="10.4" text-anchor="middle" fill="#333" >day 12</text>
<text x="0" y="0" font-size="11.3" fill="#222" text-anchor="middle" transform="translate(495.5,104.7) rotate(-90)">Count per Spheroid</text>
<line x1="255.3" y1="273.7" x2="255.3" y2="419.0" stroke="#222" stroke-width="1.2"/>
<line x1="249.2" y1="418.4" x2="472.8" y2="418.4" stroke="#222" stroke-width="1.2"/>
<line x1="249.2" y1="418.40" x2="255.3" y2="418.40" stroke="#222" stroke-width="1.2"/>
<text x="247.5" y="422.2" font-size="10.6" text-anchor="end" fill="#2a2a2a" >0.3</text>
<line x1="249.2" y1="382.35" x2="255.3" y2="382.35" stroke="#222" stroke-width="1.2"/>
<text x="247.5" y="386.15" font-size="10.6" text-anchor="end" fill="#2a2a2a" >0.4</text>
<line x1="249.2" y1="346.30" x2="255.3" y2="346.30" stroke="#222" stroke-width="1.2"/>
<text x="247.5" y="350.09999999999997" font-size="10.6" text-anchor="end" fill="#2a2a2a" >0.5</text>
<line x1="249.2" y1="310.25" x2="255.3" y2="310.25" stroke="#222" stroke-width="1.2"/>
<text x="247.5" y="314.05" font-size="10.6" text-anchor="end" fill="#2a2a2a" >0.6</text>
<line x1="249.2" y1="274.20" x2="255.3" y2="274.20" stroke="#222" stroke-width="1.2"/>
<text x="247.5" y="278.0" font-size="10.6" text-anchor="end" fill="#2a2a2a" >0.7</text>
<line x1="272.50" y1="418.4" x2="272.50" y2="424.4" stroke="#222" stroke-width="1.2"/>
<line x1="298.51" y1="418.4" x2="298.51" y2="424.4" stroke="#222" stroke-width="1.2"/>
<line x1="324.52" y1="418.4" x2="324.52" y2="424.4" stroke="#222" stroke-width="1.2"/>
<line x1="350.53" y1="418.4" x2="350.53" y2="424.4" stroke="#222" stroke-width="1.2"/>
<line x1="376.54" y1="418.4" x2="376.54" y2="424.4" stroke="#222" stroke-width="1.2"/>
<line x1="402.55" y1="418.4" x2="402.55" y2="424.4" stroke="#222" stroke-width="1.2"/>
<line x1="428.56" y1="418.4" x2="428.56" y2="424.4" stroke="#222" stroke-width="1.2"/>
<line x1="454.57" y1="418.4" x2="454.57" y2="424.4" stroke="#222" stroke-width="1.2"/>
<text x="285.00" y="435.8" font-size="11.5" text-anchor="middle" fill="#2a2a2a" >6</text>
<text x="337.02" y="435.8" font-size="11.5" text-anchor="middle" fill="#2a2a2a" >8</text>
<text x="389.05" y="435.8" font-size="11.5" text-anchor="middle" fill="#2a2a2a" >9</text>
<text x="441.07" y="435.8" font-size="11.5" text-anchor="middle" fill="#2a2a2a" >12</text>
<text x="351.2" y="455.6" font-size="11.8" text-anchor="middle" fill="#222" >Time (day)</text>
<text x="0" y="0" font-size="11.9" fill="#222" text-anchor="middle" transform="translate(204.3,346.3) rotate(-90)">WST-1 O.D.</text>
<text x="0" y="0" font-size="11.8" fill="#222" text-anchor="middle" transform="translate(217.9,346.3) rotate(-90)">(A690 nm-A450 nm)</text>
<circle cx="266.6" cy="372.3" r="2.85" fill="none" stroke="#1a1a1a" stroke-width="1.15"/>
<circle cx="272.4" cy="372.0" r="2.85" fill="none" stroke="#1a1a1a" stroke-width="1.15"/>
<circle cx="278.3" cy="373.6" r="2.85" fill="none" stroke="#1a1a1a" stroke-width="1.15"/>
<circle cx="269.4" cy="385.8" r="2.85" fill="none" stroke="#1a1a1a" stroke-width="1.15"/>
<circle cx="275.5" cy="383.8" r="2.85" fill="none" stroke="#1a1a1a" stroke-width="1.15"/>
<circle cx="318.7" cy="337.1" r="2.85" fill="none" stroke="#1a1a1a" stroke-width="1.15"/>
<circle cx="324.7" cy="332.6" r="2.85" fill="none" stroke="#1a1a1a" stroke-width="1.15"/>
<circle cx="330.7" cy="337.5" r="2.85" fill="none" stroke="#1a1a1a" stroke-width="1.15"/>
<circle cx="324.7" cy="343.1" r="2.85" fill="none" stroke="#1a1a1a" stroke-width="1.15"/>
<circle cx="324.7" cy="357.5" r="2.85" fill="none" stroke="#1a1a1a" stroke-width="1.15"/>
<circle cx="376.6" cy="318.8" r="2.85" fill="none" stroke="#1a1a1a" stroke-width="1.15"/>
<circle cx="382.4" cy="329.2" r="2.85" fill="none" stroke="#1a1a1a" stroke-width="1.15"/>
<circle cx="370.8" cy="333.6" r="2.85" fill="none" stroke="#1a1a1a" stroke-width="1.15"/>
<circle cx="370.8" cy="354.3" r="2.85" fill="none" stroke="#1a1a1a" stroke-width="1.15"/>
<circle cx="382.4" cy="354.0" r="2.85" fill="none" stroke="#1a1a1a" stroke-width="1.15"/>
<circle cx="428.6" cy="338.2" r="2.85" fill="none" stroke="#1a1a1a" stroke-width="1.15"/>
<circle cx="434.5" cy="370.3" r="2.85" fill="none" stroke="#1a1a1a" stroke-width="1.15"/>
<circle cx="428.6" cy="375.2" r="2.85" fill="none" stroke="#1a1a1a" stroke-width="1.15"/>
<circle cx="434.5" cy="376.4" r="2.85" fill="none" stroke="#1a1a1a" stroke-width="1.15"/>
<circle cx="422.9" cy="380.1" r="2.85" fill="none" stroke="#1a1a1a" stroke-width="1.15"/>
<rect x="295.75" y="361.35" width="5.5" height="5.5" fill="none" stroke="#1a1a1a" stroke-width="1.2"/>
<rect x="290.05" y="374.55" width="5.5" height="5.5" fill="none" stroke="#1a1a1a" stroke-width="1.2"/>
<rect x="301.65" y="373.75" width="5.5" height="5.5" fill="none" stroke="#1a1a1a" stroke-width="1.2"/>
<rect x="301.65" y="383.35" width="5.5" height="5.5" fill="none" stroke="#1a1a1a" stroke-width="1.2"/>
<rect x="290.05" y="387.65" width="5.5" height="5.5" fill="none" stroke="#1a1a1a" stroke-width="1.2"/>
<rect x="347.85" y="329.85" width="5.5" height="5.5" fill="none" stroke="#1a1a1a" stroke-width="1.2"/>
<rect x="341.85" y="357.85" width="5.5" height="5.5" fill="none" stroke="#1a1a1a" stroke-width="1.2"/>
<rect x="353.65" y="353.25" width="5.5" height="5.5" fill="none" stroke="#1a1a1a" stroke-width="1.2"/>
<rect x="353.65" y="360.25" width="5.5" height="5.5" fill="none" stroke="#1a1a1a" stroke-width="1.2"/>
<rect x="347.85" y="387.65" width="5.5" height="5.5" fill="none" stroke="#1a1a1a" stroke-width="1.2"/>
<rect x="399.85" y="305.45" width="5.5" height="5.5" fill="none" stroke="#1a1a1a" stroke-width="1.2"/>
<rect x="399.85" y="321.25" width="5.5" height="5.5" fill="none" stroke="#1a1a1a" stroke-width="1.2"/>
<rect x="393.85" y="329.05" width="5.5" height="5.5" fill="none" stroke="#1a1a1a" stroke-width="1.2"/>
<rect x="405.85" y="331.45" width="5.5" height="5.5" fill="none" stroke="#1a1a1a" stroke-width="1.2"/>
<rect x="399.85" y="339.05" width="5.5" height="5.5" fill="none" stroke="#1a1a1a" stroke-width="1.2"/>
<rect x="445.95" y="352.95" width="5.5" height="5.5" fill="none" stroke="#1a1a1a" stroke-width="1.2"/>
<rect x="457.55" y="354.75" width="5.5" height="5.5" fill="none" stroke="#1a1a1a" stroke-width="1.2"/>
<rect x="451.75" y="365.25" width="5.5" height="5.5" fill="none" stroke="#1a1a1a" stroke-width="1.2"/>
<rect x="451.75" y="373.65" width="5.5" height="5.5" fill="none" stroke="#1a1a1a" stroke-width="1.2"/>
<rect x="451.75" y="381.85" width="5.5" height="5.5" fill="none" stroke="#1a1a1a" stroke-width="1.2"/>
<line x1="265.5" y1="373.1" x2="279.5" y2="373.1" stroke="#1e1e1e" stroke-width="1.1"/>
<line x1="317.5" y1="337.1" x2="332.0" y2="337.1" stroke="#1e1e1e" stroke-width="1.1"/>
<line x1="369.5" y1="333.3" x2="385.0" y2="333.3" stroke="#1e1e1e" stroke-width="1.1"/>
<line x1="420.0" y1="375.5" x2="437.0" y2="375.5" stroke="#1e1e1e" stroke-width="1.1"/>
<line x1="291.5" y1="377.3" x2="305.5" y2="377.3" stroke="#1e1e1e" stroke-width="1.1"/>
<line x1="343.5" y1="360.6" x2="357.5" y2="360.6" stroke="#1e1e1e" stroke-width="1.1"/>
<line x1="395.5" y1="331.8" x2="410.0" y2="331.8" stroke="#1e1e1e" stroke-width="1.1"/>
<line x1="446.0" y1="368.0" x2="463.0" y2="368.0" stroke="#1e1e1e" stroke-width="1.1"/>
<circle cx="418.7" cy="254.4" r="2.95" fill="none" stroke="#1a1a1a" stroke-width="1.15"/>
<rect x="415.85" y="267.85" width="5.5" height="5.5" fill="none" stroke="#1a1a1a" stroke-width="1.2"/>
<text x="434.8" y="259.5" font-size="11.75" text-anchor="start" fill="#222" >Spheroid</text>
<text x="481.5" y="254.4" font-size="9.2" text-anchor="start" fill="#222" font-style="italic">WT</text>
<text x="434.8" y="275.7" font-size="11.75" text-anchor="start" fill="#222" >Spheroid</text>
<text x="481.5" y="270.9" font-size="9.0" text-anchor="start" fill="#222" font-style="italic">CD276KO</text>
</svg></body></html>
